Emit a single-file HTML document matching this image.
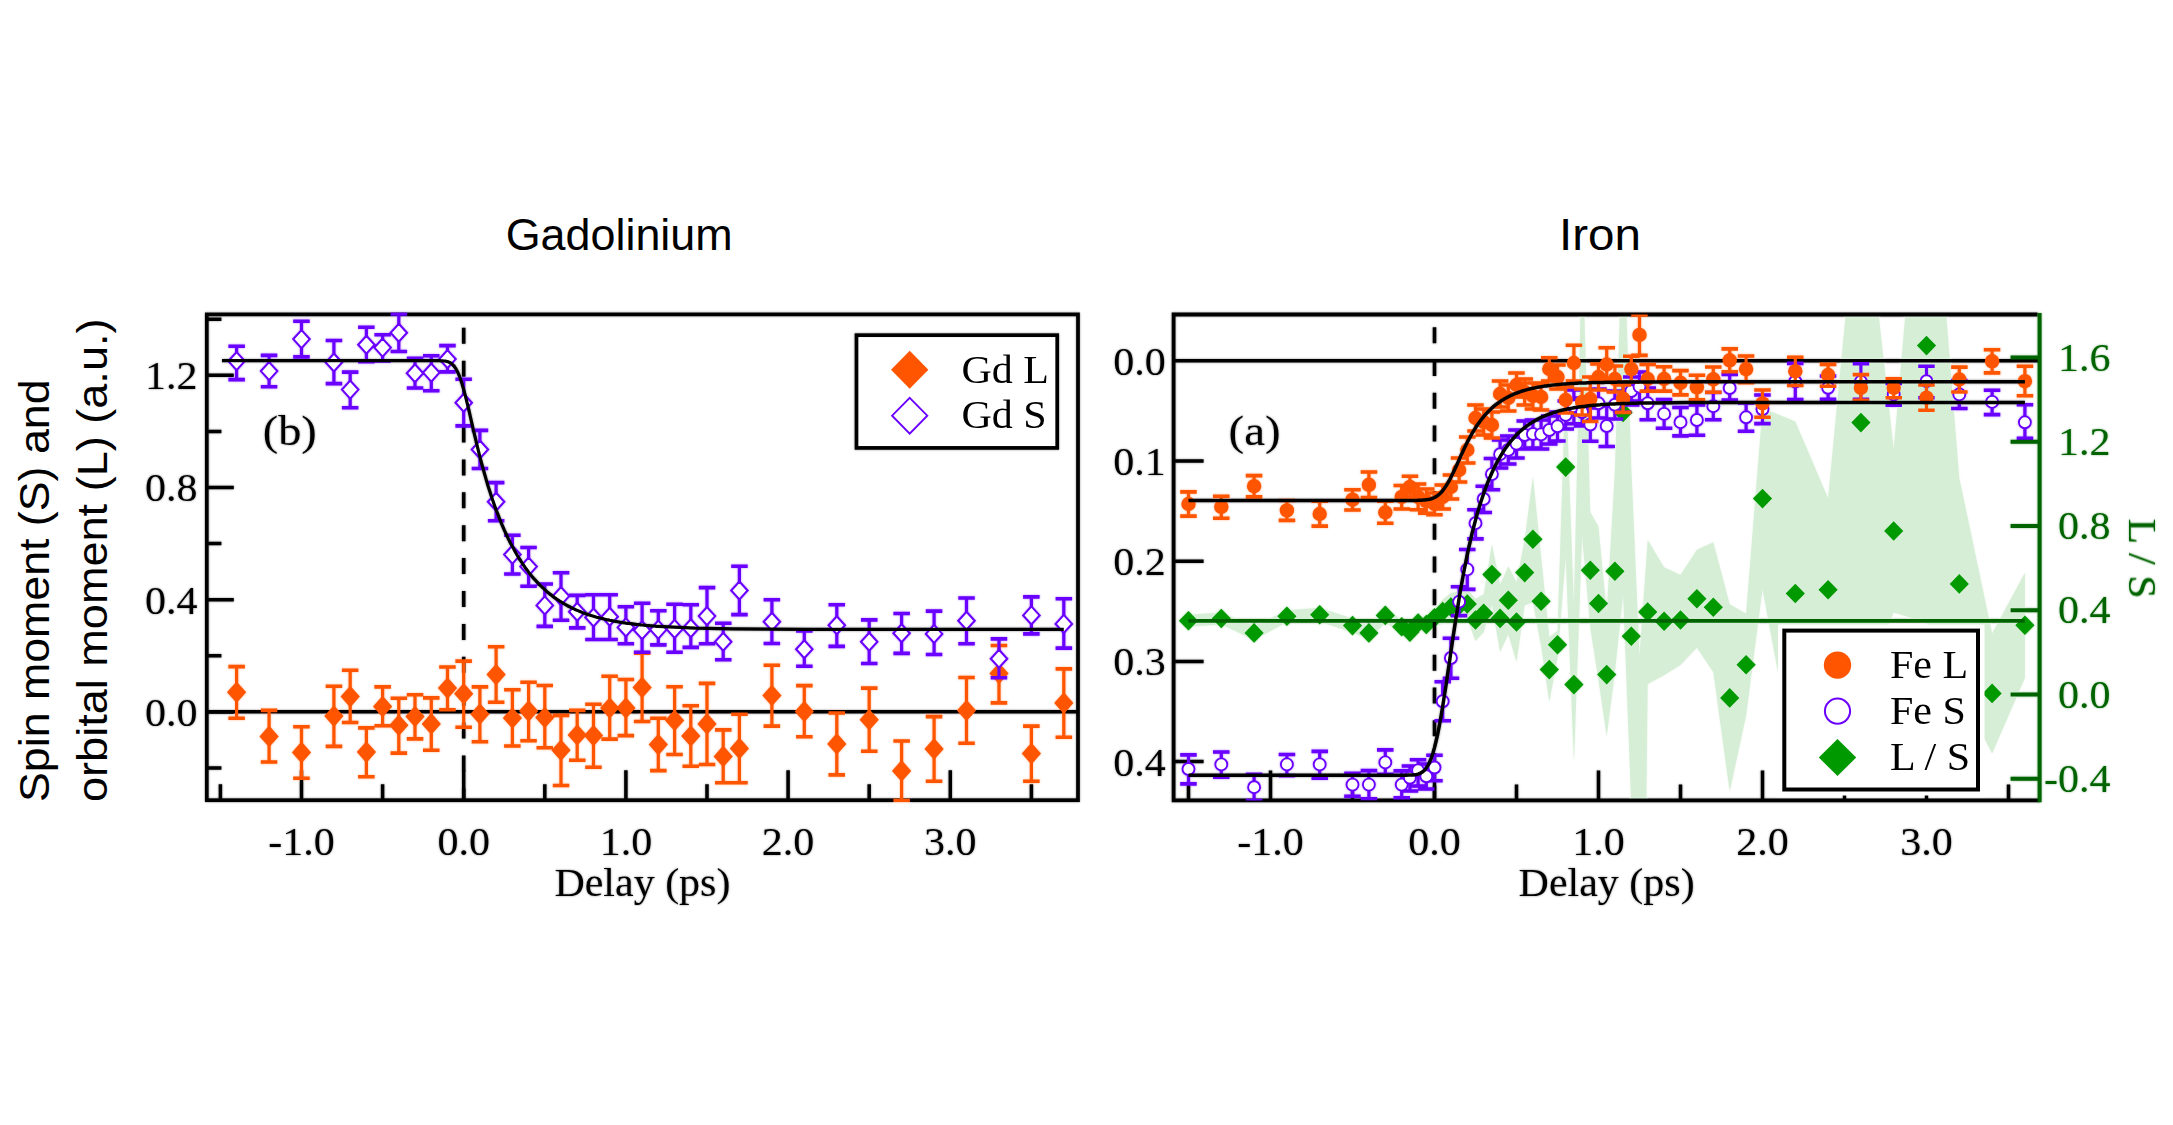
<!DOCTYPE html>
<html lang="en"><head><meta charset="utf-8"><title>Gadolinium and Iron spin and orbital moment dynamics</title>
<style>html,body{margin:0;padding:0;background:#fff}svg{display:block}text{font-family:"Liberation Serif",serif;font-size:40px;fill:#000;stroke:#000;stroke-width:0}.s{font-family:"Liberation Sans",sans-serif;fill:#000;stroke-width:0}.g{fill:#006400;stroke:#006400}</style></head><body>
<svg width="2173" height="1125" viewBox="0 0 2173 1125">
<defs><filter id="b" x="-2%" y="-2%" width="104%" height="104%"><feGaussianBlur stdDeviation="0.85"/><feComponentTransfer result="bl"><feFuncA type="linear" slope="0.45"/></feComponentTransfer><feMerge><feMergeNode in="bl"/><feMergeNode in="SourceGraphic"/></feMerge></filter>
<clipPath id="cr"><rect x="1173.6" y="314.5" width="866" height="486"/></clipPath>
<clipPath id="cl"><rect x="1112.6" y="300" width="80" height="520"/></clipPath>
<clipPath id="clp"><rect x="205" y="312.6" width="875" height="489.4"/></clipPath></defs>
<rect width="2173" height="1125" fill="#fff"/>
<text class="s" x="619.2" y="250.3" style="font-size:44px" text-anchor="middle" textLength="227" lengthAdjust="spacingAndGlyphs">Gadolinium</text>
<text class="s" x="1600" y="250.3" style="font-size:44px" text-anchor="middle" textLength="82" lengthAdjust="spacingAndGlyphs">Iron</text>
<text class="s" transform="translate(48.5 802) rotate(-90)" style="font-size:43px" textLength="422.5" lengthAdjust="spacingAndGlyphs">Spin moment (S) and</text>
<text class="s" transform="translate(106.8 802) rotate(-90)" style="font-size:43px" textLength="483.5" lengthAdjust="spacingAndGlyphs">orbital moment (L) (a.u.)</text>
<g filter="url(#b)">
<path d="M206.8 375.3h27M206.8 487.5h27M206.8 599.7h27M206.8 711.9h27M206.8 319.2h14.6M206.8 431.4h14.6M206.8 543.6h14.6M206.8 655.8h14.6M206.8 768h14.6M301.5 800.2v-30M463.7 800.2v-30M625.9 800.2v-30M788.1 800.2v-30M950.3 800.2v-30M220.4 800.2v-16M382.6 800.2v-16M544.8 800.2v-16M707 800.2v-16M869.2 800.2v-16M1031.4 800.2v-16" stroke="#000" stroke-width="3.5" fill="none"/>
<rect x="206.8" y="314.4" width="871.2" height="485.8" fill="none" stroke="#000" stroke-width="3.7"/>
<path d="M206.8 711.8H1078" stroke="#000" stroke-width="3.5"/>
<path d="M463.7 327.8V800.2" stroke="#000" stroke-width="3.6" stroke-dasharray="16 16.9"/>
<g clip-path="url(#clp)">
<path d="M236.6 666.6V718.2M269.1 710.4V762M301.5 726.8V778.3M333.9 686.2V746.4M350.2 670.3V722.5M366.4 727.9V776.8M382.6 686.9V725.8M398.8 698.3V753.1M415 694.8V738.9M431.3 697.9V750.2M447.5 667V709.7M463.7 661.1V727.2M479.9 686.9V741.7M496.1 646.8V702.2M512.4 689.8V746M528.6 682.2V740.7M544.8 685.5V747.8M561 715.4V785.5M577.2 710.4V760.2M593.5 704.3V767.3M609.7 676.3V739.1M625.9 679.5V735.6M642.1 653.3V721.5M658.3 718.2V770.6M674.6 686.7V754.5M690.8 705.7V766.3M707 683.4V764.5M723.2 729.9V782.7M739.4 714.3V782.7M771.9 665.3V726.1M804.3 685.6V736.8M836.8 713V774.9M869.2 688.1V751.3M901.6 741V800.5M934.1 716.6V781.2M966.5 677.5V743.2M999 645.5V702.9M1031.4 726.1V781.2M1063.8 668.9V737.2" stroke="#ff5500" stroke-width="3.2" fill="none"/>
<path d="M228.4 666.6h16.5M228.4 718.2h16.5M260.8 710.4h16.5M260.8 762h16.5M293.2 726.8h16.5M293.2 778.3h16.5M325.7 686.2h16.5M325.7 746.4h16.5M341.9 670.3h16.5M341.9 722.5h16.5M358.1 727.9h16.5M358.1 776.8h16.5M374.4 686.9h16.5M374.4 725.8h16.5M390.6 698.3h16.5M390.6 753.1h16.5M406.8 694.8h16.5M406.8 738.9h16.5M423 697.9h16.5M423 750.2h16.5M439.2 667h16.5M439.2 709.7h16.5M455.4 661.1h16.5M455.4 727.2h16.5M471.7 686.9h16.5M471.7 741.7h16.5M487.9 646.8h16.5M487.9 702.2h16.5M504.1 689.8h16.5M504.1 746h16.5M520.3 682.2h16.5M520.3 740.7h16.5M536.5 685.5h16.5M536.5 747.8h16.5M552.8 715.4h16.5M552.8 785.5h16.5M569 710.4h16.5M569 760.2h16.5M585.2 704.3h16.5M585.2 767.3h16.5M601.4 676.3h16.5M601.4 739.1h16.5M617.6 679.5h16.5M617.6 735.6h16.5M633.9 653.3h16.5M633.9 721.5h16.5M650.1 718.2h16.5M650.1 770.6h16.5M666.3 686.7h16.5M666.3 754.5h16.5M682.5 705.7h16.5M682.5 766.3h16.5M698.8 683.4h16.5M698.8 764.5h16.5M715 729.9h16.5M715 782.7h16.5M731.2 714.3h16.5M731.2 782.7h16.5M763.6 665.3h16.5M763.6 726.1h16.5M796.1 685.6h16.5M796.1 736.8h16.5M828.5 713h16.5M828.5 774.9h16.5M861 688.1h16.5M861 751.3h16.5M893.4 741h16.5M893.4 800.5h16.5M925.8 716.6h16.5M925.8 781.2h16.5M958.3 677.5h16.5M958.3 743.2h16.5M990.7 645.5h16.5M990.7 702.9h16.5M1023.1 726.1h16.5M1023.1 781.2h16.5M1055.6 668.9h16.5M1055.6 737.2h16.5" stroke="#ff5500" stroke-width="3.6" fill="none"/>
<path d="M236.6 681.5L246.2 692.3L236.6 703.1L227 692.3ZM269.1 725.6L278.7 736.4L269.1 747.2L259.5 736.4ZM301.5 741.6L311.1 752.4L301.5 763.2L291.9 752.4ZM333.9 705.3L343.5 716.1L333.9 726.9L324.3 716.1ZM350.2 685.8L359.8 696.6L350.2 707.4L340.6 696.6ZM366.4 741.3L376 752.1L366.4 762.9L356.8 752.1ZM382.6 695.8L392.2 706.6L382.6 717.4L373 706.6ZM398.8 714.5L408.4 725.3L398.8 736.1L389.2 725.3ZM415 705.7L424.6 716.5L415 727.3L405.4 716.5ZM431.3 713.1L440.9 723.9L431.3 734.7L421.7 723.9ZM447.5 677.3L457.1 688.1L447.5 698.9L437.9 688.1ZM463.7 683L473.3 693.8L463.7 704.6L454.1 693.8ZM479.9 703.2L489.5 714L479.9 724.8L470.3 714ZM496.1 663.8L505.7 674.6L496.1 685.4L486.5 674.6ZM512.4 707.2L522 718L512.4 728.8L502.8 718ZM528.6 700.3L538.2 711.1L528.6 721.9L519 711.1ZM544.8 706.7L554.4 717.5L544.8 728.3L535.2 717.5ZM561 739.4L570.6 750.2L561 761L551.4 750.2ZM577.2 724.2L586.8 735L577.2 745.8L567.6 735ZM593.5 724.8L603.1 735.6L593.5 746.4L583.9 735.6ZM609.7 697.2L619.3 708L609.7 718.8L600.1 708ZM625.9 697.2L635.5 708L625.9 718.8L616.3 708ZM642.1 676.6L651.7 687.4L642.1 698.2L632.5 687.4ZM658.3 733.8L667.9 744.6L658.3 755.4L648.7 744.6ZM674.6 709.6L684.2 720.4L674.6 731.2L665 720.4ZM690.8 725.2L700.4 736L690.8 746.8L681.2 736ZM707 713.1L716.6 723.9L707 734.7L697.4 723.9ZM723.2 745.6L732.8 756.4L723.2 767.2L713.6 756.4ZM739.4 737.6L749 748.4L739.4 759.2L729.8 748.4ZM771.9 684.7L781.5 695.5L771.9 706.3L762.3 695.5ZM804.3 700.7L813.9 711.5L804.3 722.3L794.7 711.5ZM836.8 733.1L846.4 743.9L836.8 754.7L827.2 743.9ZM869.2 708.9L878.8 719.7L869.2 730.5L859.6 719.7ZM901.6 760.1L911.2 770.9L901.6 781.7L892 770.9ZM934.1 738.1L943.7 748.9L934.1 759.7L924.5 748.9ZM966.5 699.7L976.1 710.5L966.5 721.3L956.9 710.5ZM999 662.7L1008.6 673.5L999 684.3L989.4 673.5ZM1031.4 742.8L1041 753.6L1031.4 764.4L1021.8 753.6ZM1063.8 692.3L1073.4 703.1L1063.8 713.9L1054.2 703.1Z" fill="#ff5500"/>
<path d="M236.6 346.2V379.6M269.1 355.4V386.7M301.5 321.3V356.9M333.9 340.5V383.6M350.2 372.1V407.8M366.4 327.3V361.8M382.6 334.8V361M398.8 314V351.5M415 358.4V388M431.3 355.8V390.8M447.5 345.6V371.9M463.7 379.3V425.9M479.9 430.4V468.5M496.1 482.6V520.7M512.4 535.3V574M528.6 547.5V586.2M544.8 584V626.4M561 572.7V620.3M577.2 595.4V627.9M593.5 594.7V639.5M609.7 594.7V639.5M625.9 606.8V643.8M642.1 603.3V652.3M658.3 610.8V644.9M674.6 604.3V652.3M690.8 604.7V647.4M707 587.6V643.8M723.2 623.2V659.7M739.4 566.3V614.6M771.9 599.7V643.5M804.3 631V666.3M836.8 604.7V646.4M869.2 619.9V663.5M901.6 613.5V653.4M934.1 611.1V654.5M966.5 598V643.8M999 638.9V677.7M1031.4 596.9V633.9M1063.8 598.7V648.1" stroke="#6a00ff" stroke-width="3.2" fill="none"/>
<path d="M228.4 346.2h16.5M228.4 379.6h16.5M260.8 355.4h16.5M260.8 386.7h16.5M293.2 321.3h16.5M293.2 356.9h16.5M325.7 340.5h16.5M325.7 383.6h16.5M341.9 372.1h16.5M341.9 407.8h16.5M358.1 327.3h16.5M358.1 361.8h16.5M374.4 334.8h16.5M374.4 361h16.5M390.6 314h16.5M390.6 351.5h16.5M406.8 358.4h16.5M406.8 388h16.5M423 355.8h16.5M423 390.8h16.5M439.2 345.6h16.5M439.2 371.9h16.5M455.4 379.3h16.5M455.4 425.9h16.5M471.7 430.4h16.5M471.7 468.5h16.5M487.9 482.6h16.5M487.9 520.7h16.5M504.1 535.3h16.5M504.1 574h16.5M520.3 547.5h16.5M520.3 586.2h16.5M536.5 584h16.5M536.5 626.4h16.5M552.8 572.7h16.5M552.8 620.3h16.5M569 595.4h16.5M569 627.9h16.5M585.2 594.7h16.5M585.2 639.5h16.5M601.4 594.7h16.5M601.4 639.5h16.5M617.6 606.8h16.5M617.6 643.8h16.5M633.9 603.3h16.5M633.9 652.3h16.5M650.1 610.8h16.5M650.1 644.9h16.5M666.3 604.3h16.5M666.3 652.3h16.5M682.5 604.7h16.5M682.5 647.4h16.5M698.8 587.6h16.5M698.8 643.8h16.5M715 623.2h16.5M715 659.7h16.5M731.2 566.3h16.5M731.2 614.6h16.5M763.6 599.7h16.5M763.6 643.5h16.5M796.1 631h16.5M796.1 666.3h16.5M828.5 604.7h16.5M828.5 646.4h16.5M861 619.9h16.5M861 663.5h16.5M893.4 613.5h16.5M893.4 653.4h16.5M925.8 611.1h16.5M925.8 654.5h16.5M958.3 598h16.5M958.3 643.8h16.5M990.7 638.9h16.5M990.7 677.7h16.5M1023.1 596.9h16.5M1023.1 633.9h16.5M1055.6 598.7h16.5M1055.6 648.1h16.5" stroke="#6a00ff" stroke-width="3.6" fill="none"/>
<path d="M236.6 352.1L244.8 361.1L236.6 370.1L228.4 361.1ZM269.1 362.1L277.3 371.1L269.1 380.1L260.9 371.1ZM301.5 330.1L309.7 339.1L301.5 348.1L293.3 339.1ZM333.9 353.5L342.1 362.5L333.9 371.5L325.7 362.5ZM350.2 380.6L358.4 389.6L350.2 398.6L342 389.6ZM366.4 335.8L374.6 344.8L366.4 353.8L358.2 344.8ZM382.6 338.6L390.8 347.6L382.6 356.6L374.4 347.6ZM398.8 323.7L407 332.7L398.8 341.7L390.6 332.7ZM415 364.3L423.2 373.3L415 382.3L406.8 373.3ZM431.3 363.6L439.5 372.6L431.3 381.6L423.1 372.6ZM447.5 350.1L455.7 359.1L447.5 368.1L439.3 359.1ZM463.7 393.7L471.9 402.7L463.7 411.7L455.5 402.7ZM479.9 440.5L488.1 449.5L479.9 458.5L471.7 449.5ZM496.1 492.8L504.3 501.8L496.1 510.8L487.9 501.8ZM512.4 545.6L520.6 554.6L512.4 563.6L504.2 554.6ZM528.6 557.6L536.8 566.6L528.6 575.6L520.4 566.6ZM544.8 596.4L553 605.4L544.8 614.4L536.6 605.4ZM561 587.1L569.2 596.1L561 605.1L552.8 596.1ZM577.2 602.8L585.4 611.8L577.2 620.8L569 611.8ZM593.5 608.5L601.7 617.5L593.5 626.5L585.3 617.5ZM609.7 607.8L617.9 616.8L609.7 625.8L601.5 616.8ZM625.9 618.4L634.1 627.4L625.9 636.4L617.7 627.4ZM642.1 621.3L650.3 630.3L642.1 639.3L633.9 630.3ZM658.3 620.6L666.5 629.6L658.3 638.6L650.1 629.6ZM674.6 619.9L682.8 628.9L674.6 637.9L666.4 628.9ZM690.8 619.2L699 628.2L690.8 637.2L682.6 628.2ZM707 607.1L715.2 616.1L707 625.1L698.8 616.1ZM723.2 632.7L731.4 641.7L723.2 650.7L715 641.7ZM739.4 581.5L747.6 590.5L739.4 599.5L731.2 590.5ZM771.9 612.7L780.1 621.7L771.9 630.7L763.7 621.7ZM804.3 640.2L812.5 649.2L804.3 658.2L796.1 649.2ZM836.8 616.3L845 625.3L836.8 634.3L828.6 625.3ZM869.2 632.7L877.4 641.7L869.2 650.7L861 641.7ZM901.6 624.2L909.8 633.2L901.6 642.2L893.4 633.2ZM934.1 624.9L942.3 633.9L934.1 642.9L925.9 633.9ZM966.5 611.8L974.7 620.8L966.5 629.8L958.3 620.8ZM999 649.8L1007.2 658.8L999 667.8L990.8 658.8ZM1031.4 606.4L1039.6 615.4L1031.4 624.4L1023.2 615.4ZM1063.8 614.9L1072 623.9L1063.8 632.9L1055.6 623.9Z" fill="#fff" stroke="#6a00ff" stroke-width="2.1" stroke-linejoin="miter"/>
</g>
<path d="M222 360.7 L326.6 360.7 L431.3 360.7 L431.3 360.7 L432.9 360.7 L434.5 360.7 L436.1 360.7 L437.7 360.7 L439.4 360.7 L441 360.8 L442.6 360.9 L444.2 361 L445.9 361.2 L447.5 361.6 L449.1 362.2 L450.7 363 L452.3 364.3 L454 366 L455.6 368.3 L457.2 371.2 L458.8 374.7 L460.5 379 L462.1 384 L463.7 389.6 L465.3 395.7 L466.9 402.2 L468.6 409 L470.2 416 L471.8 423.1 L473.4 430.1 L475.1 437 L476.7 443.8 L478.3 450.4 L479.9 456.8 L481.5 463 L483.2 469 L484.8 474.8 L486.4 480.4 L488 485.8 L489.7 491 L491.3 495.9 L492.9 500.8 L494.5 505.4 L496.1 509.9 L497.8 514.2 L499.4 518.4 L501 522.4 L502.6 526.2 L504.2 529.9 L505.9 533.5 L507.5 537 L509.1 540.3 L510.7 543.5 L512.4 546.6 L514 549.6 L515.6 552.5 L517.2 555.3 L518.8 558 L520.5 560.5 L522.1 563 L523.7 565.4 L525.3 567.7 L527 569.9 L528.6 572.1 L530.2 574.2 L531.8 576.2 L533.4 578.1 L535.1 579.9 L536.7 581.7 L538.3 583.4 L539.9 585.1 L541.6 586.7 L543.2 588.2 L544.8 589.7 L546.4 591.2 L548 592.5 L549.7 593.9 L551.3 595.1 L552.9 596.4 L554.5 597.6 L556.2 598.7 L557.8 599.8 L559.4 600.9 L561 601.9 L562.6 602.9 L564.3 603.9 L565.9 604.8 L567.5 605.7 L569.1 606.5 L570.8 607.4 L572.4 608.2 L574 608.9 L575.6 609.7 L577.2 610.4 L578.9 611.1 L580.5 611.7 L582.1 612.4 L583.7 613 L585.4 613.6 L587 614.1 L588.6 614.7 L590.2 615.2 L591.8 615.7 L593.5 616.2 L595.1 616.7 L596.7 617.2 L598.3 617.6 L599.9 618 L601.6 618.4 L603.2 618.8 L604.8 619.2 L606.4 619.6 L608.1 619.9 L609.7 620.3 L611.3 620.6 L612.9 620.9 L614.5 621.2 L616.2 621.5 L617.8 621.8 L619.4 622.1 L621 622.3 L622.7 622.6 L624.3 622.8 L625.9 623.1 L627.5 623.3 L629.1 623.5 L630.8 623.7 L632.4 623.9 L634 624.1 L635.6 624.3 L637.3 624.5 L638.9 624.7 L640.5 624.9 L642.1 625 L643.7 625.2 L645.4 625.3 L647 625.5 L648.6 625.6 L650.2 625.8 L651.9 625.9 L653.5 626 L655.1 626.1 L656.7 626.3 L658.3 626.4 L658.3 626.4 L695.2 628.1 L732.1 628.8 L768.9 629.2 L805.8 629.3 L842.7 629.4 L879.5 629.4 L916.4 629.4 L953.2 629.4 L990.1 629.4 L1027 629.4 L1063.8 629.4" stroke="#000" stroke-width="3.2" fill="none" stroke-linejoin="round"/>
<rect x="856.5" y="335.2" width="200.7" height="112.7" fill="#fff" stroke="#000" stroke-width="3.7"/>
<path d="M909.7 350.7L928.4 369.7L909.7 388.7L891 369.7Z" fill="#ff5500"/>
<path d="M909.7 397.8L927.3 415.7L909.7 433.6L892.1 415.7Z" fill="#fff" stroke="#6a00ff" stroke-width="1.9" stroke-linejoin="miter"/>
<text transform="translate(961.4 382.7) scale(1.05 1)">Gd L</text><text transform="translate(961.4 428.2) scale(1.05 1)">Gd S</text>
<text transform="translate(197.6 389.1) scale(1.05 1)" text-anchor="end">1.2</text>
<text transform="translate(197.6 501.3) scale(1.05 1)" text-anchor="end">0.8</text>
<text transform="translate(197.6 613.5) scale(1.05 1)" text-anchor="end">0.4</text>
<text transform="translate(197.6 725.7) scale(1.05 1)" text-anchor="end">0.0</text>
<text transform="translate(301.5 855.2) scale(1.05 1)" text-anchor="middle">-1.0</text>
<text transform="translate(463.7 855.2) scale(1.05 1)" text-anchor="middle">0.0</text>
<text transform="translate(625.9 855.2) scale(1.05 1)" text-anchor="middle">1.0</text>
<text transform="translate(788.1 855.2) scale(1.05 1)" text-anchor="middle">2.0</text>
<text transform="translate(950.3 855.2) scale(1.05 1)" text-anchor="middle">3.0</text>
<text transform="translate(642.4 896.4) scale(1.05 1)" text-anchor="middle">Delay (ps)</text>
<text x="262.8" y="444.5" style="font-size:43px" textLength="54" lengthAdjust="spacingAndGlyphs">(b)</text>
</g>
<g filter="url(#b)">
<g clip-path="url(#cr)">
<path d="M1188.5 614.7 L1221.3 612.5 L1254.1 625.9 L1286.9 610.2 L1319.7 607.7 L1352.5 618.6 L1368.9 625.9 L1385.3 608.4 L1401.7 619.8 L1409.9 625.1 L1418.1 616 L1426.3 616.5 L1434.5 608.7 L1442.7 599.6 L1450.9 593.1 L1459.1 591.6 L1467.3 589 L1475.5 599 L1483.7 594.3 L1491.9 544.1 L1500.1 584.8 L1508.3 566.2 L1516.5 582 L1524.7 539.6 L1532.9 476.3 L1541.1 556.3 L1549.3 637.1 L1557.5 630.7 L1565.7 377.1 L1573.9 605.6 L1582.1 240 L1590.3 512.3 L1598.5 526.5 L1606.7 612.6 L1614.9 470.2 L1623.1 205 L1631.3 466.2 L1639.5 656 L1647.7 540 L1664.1 567.3 L1680.5 575 L1696.9 549.8 L1713.3 542.2 L1729.7 604.3 L1746.1 613.7 L1762.5 408 L1795.3 421.5 L1828.1 498.2 L1860.9 155.6 L1893.7 449.5 L1926.5 68.6 L1959.3 477.9 L1992.1 633.4 L2024.9 572.7 L2024.9 677.9 L1992.1 753.4 L1959.3 689.9 L1926.5 622.6 L1893.7 612.5 L1860.9 689.6 L1828.1 681.2 L1795.3 765.5 L1762.5 589.2 L1746.1 715.7 L1729.7 791.5 L1713.3 672.2 L1696.9 647.8 L1680.5 665 L1664.1 675.3 L1647.7 684 L1639.5 1404 L1631.3 806.2 L1623.1 595 L1614.9 672.2 L1606.7 736.6 L1598.5 680.5 L1590.3 628.3 L1582.1 536 L1573.9 763.6 L1565.7 557.1 L1557.5 658.7 L1549.3 702.1 L1541.1 646.3 L1532.9 602.3 L1524.7 605.6 L1516.5 662 L1508.3 634.2 L1500.1 652 L1491.9 605.1 L1483.7 632.3 L1475.5 641 L1467.3 619 L1459.1 619.6 L1450.9 621.1 L1442.7 623.6 L1434.5 626.7 L1426.3 632.5 L1418.1 630 L1409.9 639.1 L1401.7 633.8 L1385.3 622.4 L1368.9 639.9 L1352.5 632.6 L1319.7 621.7 L1286.9 622.2 L1254.1 639.9 L1221.3 624.5 L1188.5 626.7Z" fill="#d6eed6"/>
<path d="M1188.5 610.9L1198.1 620.7L1188.5 630.5L1178.9 620.7ZM1221.3 608.7L1230.9 618.5L1221.3 628.3L1211.7 618.5ZM1254.1 623.1L1263.7 632.9L1254.1 642.7L1244.5 632.9ZM1286.9 606.4L1296.5 616.2L1286.9 626L1277.3 616.2ZM1319.7 604.9L1329.3 614.7L1319.7 624.5L1310.1 614.7ZM1352.5 615.8L1362.1 625.6L1352.5 635.4L1342.9 625.6ZM1368.9 623.1L1378.5 632.9L1368.9 642.7L1359.3 632.9ZM1385.3 605.6L1394.9 615.4L1385.3 625.2L1375.7 615.4ZM1401.7 617L1411.3 626.8L1401.7 636.6L1392.1 626.8ZM1409.9 622.3L1419.5 632.1L1409.9 641.9L1400.3 632.1ZM1418.1 613.2L1427.7 623L1418.1 632.8L1408.5 623ZM1426.3 614.7L1435.9 624.5L1426.3 634.3L1416.7 624.5ZM1434.5 607.9L1444.1 617.7L1434.5 627.5L1424.9 617.7ZM1442.7 601.8L1452.3 611.6L1442.7 621.4L1433.1 611.6ZM1450.9 597.3L1460.5 607.1L1450.9 616.9L1441.3 607.1ZM1459.1 595.8L1468.7 605.6L1459.1 615.4L1449.5 605.6ZM1467.3 594.2L1476.9 604L1467.3 613.8L1457.7 604ZM1475.5 610.2L1485.1 620L1475.5 629.8L1465.9 620ZM1483.7 603.5L1493.3 613.3L1483.7 623.1L1474.1 613.3ZM1491.9 564.8L1501.5 574.6L1491.9 584.4L1482.3 574.6ZM1500.1 608.6L1509.7 618.4L1500.1 628.2L1490.5 618.4ZM1508.3 590.4L1517.9 600.2L1508.3 610L1498.7 600.2ZM1516.5 612.2L1526.1 622L1516.5 631.8L1506.9 622ZM1524.7 562.8L1534.3 572.6L1524.7 582.4L1515.1 572.6ZM1532.9 529.5L1542.5 539.3L1532.9 549.1L1523.3 539.3ZM1541.1 591.5L1550.7 601.3L1541.1 611.1L1531.5 601.3ZM1549.3 659.8L1558.9 669.6L1549.3 679.4L1539.7 669.6ZM1557.5 634.9L1567.1 644.7L1557.5 654.5L1547.9 644.7ZM1565.7 457.3L1575.3 467.1L1565.7 476.9L1556.1 467.1ZM1573.9 674.8L1583.5 684.6L1573.9 694.4L1564.3 684.6ZM1582.1 400.2L1591.7 410L1582.1 419.8L1572.5 410ZM1590.3 560.5L1599.9 570.3L1590.3 580.1L1580.7 570.3ZM1598.5 593.7L1608.1 603.5L1598.5 613.3L1588.9 603.5ZM1606.7 664.8L1616.3 674.6L1606.7 684.4L1597.1 674.6ZM1614.9 561.4L1624.5 571.2L1614.9 581L1605.3 571.2ZM1623.1 402.7L1632.7 412.5L1623.1 422.3L1613.5 412.5ZM1631.3 626.4L1640.9 636.2L1631.3 646L1621.7 636.2ZM1647.7 602.2L1657.3 612L1647.7 621.8L1638.1 612ZM1664.1 611.5L1673.7 621.3L1664.1 631.1L1654.5 621.3ZM1680.5 610.2L1690.1 620L1680.5 629.8L1670.9 620ZM1696.9 589L1706.5 598.8L1696.9 608.6L1687.3 598.8ZM1713.3 597.4L1722.9 607.2L1713.3 617L1703.7 607.2ZM1729.7 688.1L1739.3 697.9L1729.7 707.7L1720.1 697.9ZM1746.1 654.9L1755.7 664.7L1746.1 674.5L1736.5 664.7ZM1762.5 488.8L1772.1 498.6L1762.5 508.4L1752.9 498.6ZM1795.3 583.7L1804.9 593.5L1795.3 603.3L1785.7 593.5ZM1828.1 579.9L1837.7 589.7L1828.1 599.5L1818.5 589.7ZM1860.9 412.8L1870.5 422.6L1860.9 432.4L1851.3 422.6ZM1893.7 521.2L1903.3 531L1893.7 540.8L1884.1 531ZM1926.5 335.8L1936.1 345.6L1926.5 355.4L1916.9 345.6ZM1959.3 574.1L1968.9 583.9L1959.3 593.7L1949.7 583.9ZM1992.1 683.6L2001.7 693.4L1992.1 703.2L1982.5 693.4ZM2024.9 615.5L2034.5 625.3L2024.9 635.1L2015.3 625.3Z" fill="#009900"/>
</g>
<path d="M1188.3 620.8H2024.8" stroke="#006400" stroke-width="3.7"/>
<path d="M1173.6 461h30M1173.6 561.2h30M1173.6 661.4h30M1173.6 761.6h30M1270.5 800.4v-30M1434.5 800.4v-30M1598.5 800.4v-30M1762.5 800.4v-30M1926.5 800.4v-30M1188.5 800.4v-16M1352.5 800.4v-16M1516.5 800.4v-16M1680.5 800.4v-16M1844.5 800.4v-16M2008.5 800.4v-16" stroke="#000" stroke-width="3.5" fill="none"/>
<path d="M1171.7 314.5H2037.6M1173.6 314.5V800.4H2039.6" fill="none" stroke="#000" stroke-width="3.8"/>
<path d="M1173.6 360.7H2039.6" stroke="#000" stroke-width="3.5"/>
<path d="M1434.5 327.2V800.4" stroke="#000" stroke-width="3.6" stroke-dasharray="16 16.75"/>
<g clip-path="url(#cr)">
<path d="M1188.5 754.9V783.9M1221.3 752V777.3M1254.1 774.2V800.5M1286.9 754.5V775.6M1319.7 751.4V778.3M1352.5 773.3V796.3M1368.9 770.6V798.8M1385.3 749.9V774.3M1401.7 770.9V797.8M1409.9 766V791M1418.1 759.7V786M1426.3 764V789M1434.5 755.3V780.7M1442.7 681.7V720.8M1450.9 638.3V678.2M1459.1 586.8V615.6M1467.3 549.5V589.4M1475.5 509.7V538.9M1483.7 486.2V512.5M1491.9 458.5V489.8M1500.1 440V468M1508.3 436V464M1516.5 430V458M1524.7 421V449M1532.9 420V448M1541.1 420V449M1549.3 416V444M1557.5 412V441M1565.7 401V429M1573.9 390V423.8M1582.1 398V426M1590.3 408V441.2M1598.5 389V418M1606.7 406V446.5M1614.9 391V419M1623.1 384V412M1631.3 377V405M1639.5 372V401M1647.7 388V419.7M1664.1 399.5V428.3M1680.5 407.5V435.9M1696.9 405V435.2M1713.3 392.5V419.8M1729.7 374.4V400M1746.1 403V431.2M1762.5 395V423.6M1795.3 363.4V399.6M1828.1 376V399.4M1860.9 363.8V399.4M1893.7 383.5V405.2M1926.5 366.3V397.7M1959.3 380.5V408.5M1992.1 390.3V414.6M2024.9 404.7V438.3" stroke="#6a00ff" stroke-width="3.2" fill="none"/>
<path d="M1180.2 754.9h16.5M1180.2 783.9h16.5M1213 752h16.5M1213 777.3h16.5M1245.8 774.2h16.5M1245.8 800.5h16.5M1278.7 754.5h16.5M1278.7 775.6h16.5M1311.5 751.4h16.5M1311.5 778.3h16.5M1344.2 773.3h16.5M1344.2 796.3h16.5M1360.7 770.6h16.5M1360.7 798.8h16.5M1377 749.9h16.5M1377 774.3h16.5M1393.5 770.9h16.5M1393.5 797.8h16.5M1401.7 766h16.5M1401.7 791h16.5M1409.8 759.7h16.5M1409.8 786h16.5M1418 764h16.5M1418 789h16.5M1426.2 755.3h16.5M1426.2 780.7h16.5M1434.5 681.7h16.5M1434.5 720.8h16.5M1442.7 638.3h16.5M1442.7 678.2h16.5M1450.8 586.8h16.5M1450.8 615.6h16.5M1459 549.5h16.5M1459 589.4h16.5M1467.2 509.7h16.5M1467.2 538.9h16.5M1475.5 486.2h16.5M1475.5 512.5h16.5M1483.7 458.5h16.5M1483.7 489.8h16.5M1491.8 440h16.5M1491.8 468h16.5M1500 436h16.5M1500 464h16.5M1508.2 430h16.5M1508.2 458h16.5M1516.5 421h16.5M1516.5 449h16.5M1524.7 420h16.5M1524.7 448h16.5M1532.8 420h16.5M1532.8 449h16.5M1541 416h16.5M1541 444h16.5M1549.2 412h16.5M1549.2 441h16.5M1557.5 401h16.5M1557.5 429h16.5M1565.7 390h16.5M1565.7 423.8h16.5M1573.8 398h16.5M1573.8 426h16.5M1582 408h16.5M1582 441.2h16.5M1590.2 389h16.5M1590.2 418h16.5M1598.5 406h16.5M1598.5 446.5h16.5M1606.7 391h16.5M1606.7 419h16.5M1614.8 384h16.5M1614.8 412h16.5M1623 377h16.5M1623 405h16.5M1631.2 372h16.5M1631.2 401h16.5M1639.5 388h16.5M1639.5 419.7h16.5M1655.8 399.5h16.5M1655.8 428.3h16.5M1672.2 407.5h16.5M1672.2 435.9h16.5M1688.7 405h16.5M1688.7 435.2h16.5M1705 392.5h16.5M1705 419.8h16.5M1721.5 374.4h16.5M1721.5 400h16.5M1737.8 403h16.5M1737.8 431.2h16.5M1754.2 395h16.5M1754.2 423.6h16.5M1787 363.4h16.5M1787 399.6h16.5M1819.8 376h16.5M1819.8 399.4h16.5M1852.7 363.8h16.5M1852.7 399.4h16.5M1885.5 383.5h16.5M1885.5 405.2h16.5M1918.2 366.3h16.5M1918.2 397.7h16.5M1951.1 380.5h16.5M1951.1 408.5h16.5M1983.8 390.3h16.5M1983.8 414.6h16.5M2016.7 404.7h16.5M2016.7 438.3h16.5" stroke="#6a00ff" stroke-width="3.6" fill="none"/>
<circle cx="1188.5" cy="769" r="6.0" fill="#fff" stroke="#6a00ff" stroke-width="1.9"/>
<circle cx="1221.3" cy="764.4" r="6.0" fill="#fff" stroke="#6a00ff" stroke-width="1.9"/>
<circle cx="1254.1" cy="787.2" r="6.0" fill="#fff" stroke="#6a00ff" stroke-width="1.9"/>
<circle cx="1286.9" cy="764.4" r="6.0" fill="#fff" stroke="#6a00ff" stroke-width="1.9"/>
<circle cx="1319.7" cy="764.4" r="6.0" fill="#fff" stroke="#6a00ff" stroke-width="1.9"/>
<circle cx="1352.5" cy="784.6" r="6.0" fill="#fff" stroke="#6a00ff" stroke-width="1.9"/>
<circle cx="1368.9" cy="784.6" r="6.0" fill="#fff" stroke="#6a00ff" stroke-width="1.9"/>
<circle cx="1385.3" cy="762.4" r="6.0" fill="#fff" stroke="#6a00ff" stroke-width="1.9"/>
<circle cx="1401.7" cy="784.6" r="6.0" fill="#fff" stroke="#6a00ff" stroke-width="1.9"/>
<circle cx="1409.9" cy="777.8" r="6.0" fill="#fff" stroke="#6a00ff" stroke-width="1.9"/>
<circle cx="1418.1" cy="770.4" r="6.0" fill="#fff" stroke="#6a00ff" stroke-width="1.9"/>
<circle cx="1426.3" cy="776.3" r="6.0" fill="#fff" stroke="#6a00ff" stroke-width="1.9"/>
<circle cx="1434.5" cy="767.5" r="6.0" fill="#fff" stroke="#6a00ff" stroke-width="1.9"/>
<circle cx="1442.7" cy="701.3" r="6.0" fill="#fff" stroke="#6a00ff" stroke-width="1.9"/>
<circle cx="1450.9" cy="658" r="6.0" fill="#fff" stroke="#6a00ff" stroke-width="1.9"/>
<circle cx="1459.1" cy="601.8" r="6.0" fill="#fff" stroke="#6a00ff" stroke-width="1.9"/>
<circle cx="1467.3" cy="569.4" r="6.0" fill="#fff" stroke="#6a00ff" stroke-width="1.9"/>
<circle cx="1475.5" cy="523.2" r="6.0" fill="#fff" stroke="#6a00ff" stroke-width="1.9"/>
<circle cx="1483.7" cy="499" r="6.0" fill="#fff" stroke="#6a00ff" stroke-width="1.9"/>
<circle cx="1491.9" cy="474.1" r="6.0" fill="#fff" stroke="#6a00ff" stroke-width="1.9"/>
<circle cx="1500.1" cy="454.2" r="6.0" fill="#fff" stroke="#6a00ff" stroke-width="1.9"/>
<circle cx="1508.3" cy="450" r="6.0" fill="#fff" stroke="#6a00ff" stroke-width="1.9"/>
<circle cx="1516.5" cy="443.7" r="6.0" fill="#fff" stroke="#6a00ff" stroke-width="1.9"/>
<circle cx="1524.7" cy="435" r="6.0" fill="#fff" stroke="#6a00ff" stroke-width="1.9"/>
<circle cx="1532.9" cy="434" r="6.0" fill="#fff" stroke="#6a00ff" stroke-width="1.9"/>
<circle cx="1541.1" cy="434.4" r="6.0" fill="#fff" stroke="#6a00ff" stroke-width="1.9"/>
<circle cx="1549.3" cy="430" r="6.0" fill="#fff" stroke="#6a00ff" stroke-width="1.9"/>
<circle cx="1557.5" cy="426.3" r="6.0" fill="#fff" stroke="#6a00ff" stroke-width="1.9"/>
<circle cx="1565.7" cy="415" r="6.0" fill="#fff" stroke="#6a00ff" stroke-width="1.9"/>
<circle cx="1573.9" cy="406.3" r="6.0" fill="#fff" stroke="#6a00ff" stroke-width="1.9"/>
<circle cx="1582.1" cy="412" r="6.0" fill="#fff" stroke="#6a00ff" stroke-width="1.9"/>
<circle cx="1590.3" cy="424.5" r="6.0" fill="#fff" stroke="#6a00ff" stroke-width="1.9"/>
<circle cx="1598.5" cy="403.3" r="6.0" fill="#fff" stroke="#6a00ff" stroke-width="1.9"/>
<circle cx="1606.7" cy="426" r="6.0" fill="#fff" stroke="#6a00ff" stroke-width="1.9"/>
<circle cx="1614.9" cy="404.8" r="6.0" fill="#fff" stroke="#6a00ff" stroke-width="1.9"/>
<circle cx="1623.1" cy="398" r="6.0" fill="#fff" stroke="#6a00ff" stroke-width="1.9"/>
<circle cx="1631.3" cy="391" r="6.0" fill="#fff" stroke="#6a00ff" stroke-width="1.9"/>
<circle cx="1639.5" cy="386.6" r="6.0" fill="#fff" stroke="#6a00ff" stroke-width="1.9"/>
<circle cx="1647.7" cy="403.3" r="6.0" fill="#fff" stroke="#6a00ff" stroke-width="1.9"/>
<circle cx="1664.1" cy="413.9" r="6.0" fill="#fff" stroke="#6a00ff" stroke-width="1.9"/>
<circle cx="1680.5" cy="422.2" r="6.0" fill="#fff" stroke="#6a00ff" stroke-width="1.9"/>
<circle cx="1696.9" cy="420" r="6.0" fill="#fff" stroke="#6a00ff" stroke-width="1.9"/>
<circle cx="1713.3" cy="406.2" r="6.0" fill="#fff" stroke="#6a00ff" stroke-width="1.9"/>
<circle cx="1729.7" cy="388" r="6.0" fill="#fff" stroke="#6a00ff" stroke-width="1.9"/>
<circle cx="1746.1" cy="417.3" r="6.0" fill="#fff" stroke="#6a00ff" stroke-width="1.9"/>
<circle cx="1762.5" cy="409.3" r="6.0" fill="#fff" stroke="#6a00ff" stroke-width="1.9"/>
<circle cx="1795.3" cy="381.5" r="6.0" fill="#fff" stroke="#6a00ff" stroke-width="1.9"/>
<circle cx="1828.1" cy="387.8" r="6.0" fill="#fff" stroke="#6a00ff" stroke-width="1.9"/>
<circle cx="1860.9" cy="381.6" r="6.0" fill="#fff" stroke="#6a00ff" stroke-width="1.9"/>
<circle cx="1893.7" cy="394.4" r="6.0" fill="#fff" stroke="#6a00ff" stroke-width="1.9"/>
<circle cx="1926.5" cy="381.2" r="6.0" fill="#fff" stroke="#6a00ff" stroke-width="1.9"/>
<circle cx="1959.3" cy="394.4" r="6.0" fill="#fff" stroke="#6a00ff" stroke-width="1.9"/>
<circle cx="1992.1" cy="401.9" r="6.0" fill="#fff" stroke="#6a00ff" stroke-width="1.9"/>
<circle cx="2024.9" cy="422.3" r="6.0" fill="#fff" stroke="#6a00ff" stroke-width="1.9"/>
<path d="M1188.5 491.9V516.1M1221.3 496.2V518.2M1254.1 475.6V496.9M1286.9 500.5V520.4M1319.7 501.2V526.1M1352.5 489.8V510M1368.9 472V497.6M1385.3 501.2V523.2M1401.7 485.5V509M1409.9 476.3V498.3M1418.1 484V509.7M1426.3 489V513.3M1434.5 493V514.7M1442.7 485V509M1450.9 475V499M1459.1 458V482M1467.3 437V463M1475.5 405V431M1483.7 409V435M1491.9 412V438M1500.1 381V407M1508.3 385V411M1516.5 373V397M1524.7 379V405M1532.9 383V409M1541.1 384V410M1549.3 357.7V381M1557.5 365V389M1565.7 387V413M1573.9 345.3V381M1582.1 389V415M1590.3 377V421.5M1598.5 364V390M1606.7 347.8V381M1614.9 366V392M1623.1 385V412.4M1631.3 356.2V382M1639.5 314.9V355.4M1647.7 364.5V391.1M1664.1 366.8V391.1M1680.5 370.6V394.9M1696.9 375.2V399.9M1713.3 367V392.2M1729.7 348.9V371.8M1746.1 356V382.8M1762.5 390V417.3M1795.3 357.3V385.5M1828.1 364.4V386.2M1860.9 374.6V400.2M1893.7 378.7V397.7M1926.5 385V410.2M1959.3 367.1V392M1992.1 349.7V372.9M2024.9 366.3V395.8" stroke="#ff5500" stroke-width="3.2" fill="none"/>
<path d="M1180.2 491.9h16.5M1180.2 516.1h16.5M1213 496.2h16.5M1213 518.2h16.5M1245.8 475.6h16.5M1245.8 496.9h16.5M1278.7 500.5h16.5M1278.7 520.4h16.5M1311.5 501.2h16.5M1311.5 526.1h16.5M1344.2 489.8h16.5M1344.2 510h16.5M1360.7 472h16.5M1360.7 497.6h16.5M1377 501.2h16.5M1377 523.2h16.5M1393.5 485.5h16.5M1393.5 509h16.5M1401.7 476.3h16.5M1401.7 498.3h16.5M1409.8 484h16.5M1409.8 509.7h16.5M1418 489h16.5M1418 513.3h16.5M1426.2 493h16.5M1426.2 514.7h16.5M1434.5 485h16.5M1434.5 509h16.5M1442.7 475h16.5M1442.7 499h16.5M1450.8 458h16.5M1450.8 482h16.5M1459 437h16.5M1459 463h16.5M1467.2 405h16.5M1467.2 431h16.5M1475.5 409h16.5M1475.5 435h16.5M1483.7 412h16.5M1483.7 438h16.5M1491.8 381h16.5M1491.8 407h16.5M1500 385h16.5M1500 411h16.5M1508.2 373h16.5M1508.2 397h16.5M1516.5 379h16.5M1516.5 405h16.5M1524.7 383h16.5M1524.7 409h16.5M1532.8 384h16.5M1532.8 410h16.5M1541 357.7h16.5M1541 381h16.5M1549.2 365h16.5M1549.2 389h16.5M1557.5 387h16.5M1557.5 413h16.5M1565.7 345.3h16.5M1565.7 381h16.5M1573.8 389h16.5M1573.8 415h16.5M1582 377h16.5M1582 421.5h16.5M1590.2 364h16.5M1590.2 390h16.5M1598.5 347.8h16.5M1598.5 381h16.5M1606.7 366h16.5M1606.7 392h16.5M1614.8 385h16.5M1614.8 412.4h16.5M1623 356.2h16.5M1623 382h16.5M1631.2 314.9h16.5M1631.2 355.4h16.5M1639.5 364.5h16.5M1639.5 391.1h16.5M1655.8 366.8h16.5M1655.8 391.1h16.5M1672.2 370.6h16.5M1672.2 394.9h16.5M1688.7 375.2h16.5M1688.7 399.9h16.5M1705 367h16.5M1705 392.2h16.5M1721.5 348.9h16.5M1721.5 371.8h16.5M1737.8 356h16.5M1737.8 382.8h16.5M1754.2 390h16.5M1754.2 417.3h16.5M1787 357.3h16.5M1787 385.5h16.5M1819.8 364.4h16.5M1819.8 386.2h16.5M1852.7 374.6h16.5M1852.7 400.2h16.5M1885.5 378.7h16.5M1885.5 397.7h16.5M1918.2 385h16.5M1918.2 410.2h16.5M1951.1 367.1h16.5M1951.1 392h16.5M1983.8 349.7h16.5M1983.8 372.9h16.5M2016.7 366.3h16.5M2016.7 395.8h16.5" stroke="#ff5500" stroke-width="3.6" fill="none"/>
<circle cx="1188.5" cy="504" r="7.2" fill="#ff5500"/>
<circle cx="1221.3" cy="506.9" r="7.2" fill="#ff5500"/>
<circle cx="1254.1" cy="486.2" r="7.2" fill="#ff5500"/>
<circle cx="1286.9" cy="510.4" r="7.2" fill="#ff5500"/>
<circle cx="1319.7" cy="514" r="7.2" fill="#ff5500"/>
<circle cx="1352.5" cy="499.7" r="7.2" fill="#ff5500"/>
<circle cx="1368.9" cy="484.8" r="7.2" fill="#ff5500"/>
<circle cx="1385.3" cy="512.5" r="7.2" fill="#ff5500"/>
<circle cx="1401.7" cy="496.9" r="7.2" fill="#ff5500"/>
<circle cx="1409.9" cy="486.9" r="7.2" fill="#ff5500"/>
<circle cx="1418.1" cy="496.9" r="7.2" fill="#ff5500"/>
<circle cx="1426.3" cy="501.2" r="7.2" fill="#ff5500"/>
<circle cx="1434.5" cy="504" r="7.2" fill="#ff5500"/>
<circle cx="1442.7" cy="497" r="7.2" fill="#ff5500"/>
<circle cx="1450.9" cy="487" r="7.2" fill="#ff5500"/>
<circle cx="1459.1" cy="470" r="7.2" fill="#ff5500"/>
<circle cx="1467.3" cy="450" r="7.2" fill="#ff5500"/>
<circle cx="1475.5" cy="418" r="7.2" fill="#ff5500"/>
<circle cx="1483.7" cy="422" r="7.2" fill="#ff5500"/>
<circle cx="1491.9" cy="425" r="7.2" fill="#ff5500"/>
<circle cx="1500.1" cy="394" r="7.2" fill="#ff5500"/>
<circle cx="1508.3" cy="398" r="7.2" fill="#ff5500"/>
<circle cx="1516.5" cy="385" r="7.2" fill="#ff5500"/>
<circle cx="1524.7" cy="392" r="7.2" fill="#ff5500"/>
<circle cx="1532.9" cy="396" r="7.2" fill="#ff5500"/>
<circle cx="1541.1" cy="397" r="7.2" fill="#ff5500"/>
<circle cx="1549.3" cy="369" r="7.2" fill="#ff5500"/>
<circle cx="1557.5" cy="377" r="7.2" fill="#ff5500"/>
<circle cx="1565.7" cy="400" r="7.2" fill="#ff5500"/>
<circle cx="1573.9" cy="363" r="7.2" fill="#ff5500"/>
<circle cx="1582.1" cy="402" r="7.2" fill="#ff5500"/>
<circle cx="1590.3" cy="399" r="7.2" fill="#ff5500"/>
<circle cx="1598.5" cy="377" r="7.2" fill="#ff5500"/>
<circle cx="1606.7" cy="364.5" r="7.2" fill="#ff5500"/>
<circle cx="1614.9" cy="379" r="7.2" fill="#ff5500"/>
<circle cx="1623.1" cy="398.7" r="7.2" fill="#ff5500"/>
<circle cx="1631.3" cy="369.1" r="7.2" fill="#ff5500"/>
<circle cx="1639.5" cy="334.9" r="7.2" fill="#ff5500"/>
<circle cx="1647.7" cy="379" r="7.2" fill="#ff5500"/>
<circle cx="1664.1" cy="379" r="7.2" fill="#ff5500"/>
<circle cx="1680.5" cy="382.8" r="7.2" fill="#ff5500"/>
<circle cx="1696.9" cy="387.3" r="7.2" fill="#ff5500"/>
<circle cx="1713.3" cy="379.3" r="7.2" fill="#ff5500"/>
<circle cx="1729.7" cy="360.3" r="7.2" fill="#ff5500"/>
<circle cx="1746.1" cy="369.2" r="7.2" fill="#ff5500"/>
<circle cx="1762.5" cy="403.4" r="7.2" fill="#ff5500"/>
<circle cx="1795.3" cy="371.2" r="7.2" fill="#ff5500"/>
<circle cx="1828.1" cy="375" r="7.2" fill="#ff5500"/>
<circle cx="1860.9" cy="387.8" r="7.2" fill="#ff5500"/>
<circle cx="1893.7" cy="387.8" r="7.2" fill="#ff5500"/>
<circle cx="1926.5" cy="397.7" r="7.2" fill="#ff5500"/>
<circle cx="1959.3" cy="379.5" r="7.2" fill="#ff5500"/>
<circle cx="1992.1" cy="361.3" r="7.2" fill="#ff5500"/>
<circle cx="2024.9" cy="381.2" r="7.2" fill="#ff5500"/>
</g>
<path d="M1188.5 500.4 L1291 500.4 L1393.5 500.4 L1393.5 500.4 L1395.1 500.4 L1396.8 500.4 L1398.4 500.4 L1400.1 500.4 L1401.7 500.4 L1403.3 500.4 L1405 500.4 L1406.6 500.4 L1408.3 500.4 L1409.9 500.4 L1411.5 500.4 L1413.2 500.4 L1414.8 500.4 L1416.5 500.4 L1418.1 500.3 L1419.7 500.3 L1421.4 500.2 L1423 500.1 L1424.7 500 L1426.3 499.8 L1427.9 499.6 L1429.6 499.3 L1431.2 498.8 L1432.9 498.3 L1434.5 497.5 L1436.1 496.6 L1437.8 495.5 L1439.4 494.1 L1441.1 492.5 L1442.7 490.6 L1444.3 488.5 L1446 486 L1447.6 483.4 L1449.3 480.5 L1450.9 477.3 L1452.5 474 L1454.2 470.6 L1455.8 467 L1457.5 463.4 L1459.1 459.8 L1460.7 456.1 L1462.4 452.6 L1464 449.1 L1465.7 445.6 L1467.3 442.3 L1468.9 439.2 L1470.6 436.1 L1472.2 433.2 L1473.9 430.4 L1475.5 427.8 L1477.1 425.3 L1478.8 422.9 L1480.4 420.7 L1482.1 418.6 L1483.7 416.6 L1485.3 414.7 L1487 412.9 L1488.6 411.2 L1490.3 409.6 L1491.9 408 L1493.5 406.6 L1495.2 405.2 L1496.8 404 L1498.5 402.8 L1500.1 401.6 L1501.7 400.5 L1503.4 399.5 L1505 398.5 L1506.7 397.6 L1508.3 396.7 L1509.9 395.9 L1511.6 395.2 L1513.2 394.4 L1514.9 393.7 L1516.5 393.1 L1518.1 392.5 L1519.8 391.9 L1521.4 391.3 L1523.1 390.8 L1524.7 390.3 L1526.3 389.9 L1528 389.4 L1529.6 389 L1531.3 388.6 L1532.9 388.2 L1534.5 387.9 L1536.2 387.5 L1537.8 387.2 L1539.5 386.9 L1541.1 386.7 L1542.7 386.4 L1544.4 386.1 L1546 385.9 L1547.7 385.7 L1549.3 385.5 L1550.9 385.3 L1552.6 385.1 L1554.2 384.9 L1555.9 384.7 L1557.5 384.6 L1559.1 384.4 L1560.8 384.3 L1562.4 384.1 L1564.1 384 L1565.7 383.9 L1567.3 383.8 L1569 383.7 L1570.6 383.6 L1572.3 383.5 L1573.9 383.4 L1575.5 383.3 L1577.2 383.2 L1578.8 383.1 L1580.5 383.1 L1582.1 383 L1583.7 382.9 L1585.4 382.9 L1587 382.8 L1588.7 382.7 L1590.3 382.7 L1591.9 382.6 L1593.6 382.6 L1595.2 382.6 L1596.9 382.5 L1598.5 382.5 L1600.1 382.4 L1601.8 382.4 L1603.4 382.4 L1605.1 382.3 L1606.7 382.3 L1608.3 382.3 L1610 382.3 L1611.6 382.2 L1613.3 382.2 L1614.9 382.2 L1616.5 382.2 L1618.2 382.1 L1619.8 382.1 L1621.5 382.1 L1623.1 382.1 L1624.7 382.1 L1626.4 382.1 L1628 382 L1629.7 382 L1631.3 382 L1632.9 382 L1634.6 382 L1636.2 382 L1637.9 382 L1639.5 382 L1641.1 382 L1642.8 381.9 L1644.4 381.9 L1646.1 381.9 L1647.7 381.9 L1647.7 381.9 L1689.6 381.8 L1731.5 381.8 L1773.4 381.8 L1815.3 381.8 L1857.3 381.8 L1899.2 381.8 L1941.1 381.8 L1983 381.8 L2024.9 381.8" stroke="#000" stroke-width="3.5" fill="none" stroke-linejoin="round"/>
<path d="M1188.5 775.2 L1291 775.2 L1393.5 775.2 L1393.5 775.2 L1395.1 775.2 L1396.8 775.2 L1398.4 775.2 L1400.1 775.2 L1401.7 775.2 L1403.3 775.2 L1405 775.2 L1406.6 775.2 L1408.3 775.1 L1409.9 775.1 L1411.5 775 L1413.2 774.9 L1414.8 774.7 L1416.5 774.5 L1418.1 774.1 L1419.7 773.5 L1421.4 772.7 L1423 771.5 L1424.7 770 L1426.3 768 L1427.9 765.4 L1429.6 762.1 L1431.2 758.1 L1432.9 753.3 L1434.5 747.6 L1436.1 741 L1437.8 733.5 L1439.4 725.2 L1441.1 716.1 L1442.7 706.4 L1444.3 696 L1446 685.3 L1447.6 674.2 L1449.3 663 L1450.9 651.8 L1452.5 640.7 L1454.2 629.7 L1455.8 619 L1457.5 608.7 L1459.1 598.6 L1460.7 589 L1462.4 579.8 L1464 571 L1465.7 562.6 L1467.3 554.6 L1468.9 547 L1470.6 539.8 L1472.2 532.9 L1473.9 526.3 L1475.5 520.1 L1477.1 514.2 L1478.8 508.6 L1480.4 503.3 L1482.1 498.2 L1483.7 493.4 L1485.3 488.9 L1487 484.5 L1488.6 480.4 L1490.3 476.5 L1491.9 472.8 L1493.5 469.3 L1495.2 465.9 L1496.8 462.7 L1498.5 459.7 L1500.1 456.8 L1501.7 454.1 L1503.4 451.5 L1505 449 L1506.7 446.7 L1508.3 444.5 L1509.9 442.4 L1511.6 440.4 L1513.2 438.5 L1514.9 436.7 L1516.5 434.9 L1518.1 433.3 L1519.8 431.8 L1521.4 430.3 L1523.1 428.9 L1524.7 427.6 L1526.3 426.3 L1528 425.1 L1529.6 424 L1531.3 422.9 L1532.9 421.9 L1534.5 420.9 L1536.2 420 L1537.8 419.1 L1539.5 418.2 L1541.1 417.4 L1542.7 416.7 L1544.4 416 L1546 415.3 L1547.7 414.6 L1549.3 414 L1550.9 413.5 L1552.6 412.9 L1554.2 412.4 L1555.9 411.9 L1557.5 411.4 L1559.1 410.9 L1560.8 410.5 L1562.4 410.1 L1564.1 409.7 L1565.7 409.4 L1567.3 409 L1569 408.7 L1570.6 408.4 L1572.3 408.1 L1573.9 407.8 L1575.5 407.5 L1577.2 407.3 L1578.8 407 L1580.5 406.8 L1582.1 406.6 L1583.7 406.4 L1585.4 406.2 L1587 406 L1588.7 405.8 L1590.3 405.6 L1591.9 405.5 L1593.6 405.3 L1595.2 405.2 L1596.9 405 L1598.5 404.9 L1600.1 404.8 L1601.8 404.6 L1603.4 404.5 L1605.1 404.4 L1606.7 404.3 L1608.3 404.2 L1610 404.1 L1611.6 404 L1613.3 404 L1614.9 403.9 L1616.5 403.8 L1618.2 403.7 L1619.8 403.7 L1621.5 403.6 L1623.1 403.5 L1624.7 403.5 L1626.4 403.4 L1628 403.4 L1629.7 403.3 L1631.3 403.3 L1632.9 403.2 L1634.6 403.2 L1636.2 403.2 L1637.9 403.1 L1639.5 403.1 L1641.1 403.1 L1642.8 403 L1644.4 403 L1646.1 403 L1647.7 402.9 L1647.7 402.9 L1689.6 402.5 L1731.5 402.4 L1773.4 402.4 L1815.3 402.4 L1857.3 402.4 L1899.2 402.4 L1941.1 402.4 L1983 402.4 L2024.9 402.4" stroke="#000" stroke-width="3.5" fill="none" stroke-linejoin="round"/>
<path d="M2039.6 313V802.2M2039.6 357.5h-29M2039.6 441.8h-29M2039.6 526h-29M2039.6 610.3h-29M2039.6 694.5h-29M2039.6 778.7h-29" stroke="#006400" stroke-width="4" fill="none"/>
<text transform="translate(2110.4 370.5) scale(1.05 1)" class="g" text-anchor="end">1.6</text>
<text transform="translate(2110.4 454.8) scale(1.05 1)" class="g" text-anchor="end">1.2</text>
<text transform="translate(2110.4 539) scale(1.05 1)" class="g" text-anchor="end">0.8</text>
<text transform="translate(2110.4 623.3) scale(1.05 1)" class="g" text-anchor="end">0.4</text>
<text transform="translate(2110.4 707.5) scale(1.05 1)" class="g" text-anchor="end">0.0</text>
<text transform="translate(2110.4 791.7) scale(1.05 1)" class="g" text-anchor="end">-0.4</text>
<text class="g" transform="translate(2129 518.5) rotate(90) scale(1.05 1)">L / S</text>
<rect x="1778" y="624.5" width="206.5" height="171" fill="#fff"/>
<rect x="1784.3" y="630.6" width="193.7" height="158.9" fill="#fff" stroke="#000" stroke-width="4"/>
<circle cx="1837.5" cy="665.1" r="13.7" fill="#ff5500"/>
<circle cx="1837.5" cy="711.1" r="12.6" fill="#fff" stroke="#6a00ff" stroke-width="2"/>
<path d="M1837.5 738.9L1856.2 757.5L1837.5 776.1L1818.8 757.5Z" fill="#009900"/>
<text transform="translate(1890 677.7) scale(1.05 1)">Fe L</text><text transform="translate(1890 723.5) scale(1.05 1)">Fe S</text><text transform="translate(1890 770) scale(1.05 1)">L / S</text>
<text transform="translate(1165.8 375.1) scale(1.05 1)" text-anchor="end">0.0</text>
<g clip-path="url(#cl)">
<text transform="translate(1165.8 474.9) scale(1.05 1)" text-anchor="end">-0.1</text>
<text transform="translate(1165.8 575.1) scale(1.05 1)" text-anchor="end">-0.2</text>
<text transform="translate(1165.8 675.3) scale(1.05 1)" text-anchor="end">-0.3</text>
<text transform="translate(1165.8 775.5) scale(1.05 1)" text-anchor="end">-0.4</text>
</g>
<text transform="translate(1270.5 855.2) scale(1.05 1)" text-anchor="middle">-1.0</text>
<text transform="translate(1434.5 855.2) scale(1.05 1)" text-anchor="middle">0.0</text>
<text transform="translate(1598.5 855.2) scale(1.05 1)" text-anchor="middle">1.0</text>
<text transform="translate(1762.5 855.2) scale(1.05 1)" text-anchor="middle">2.0</text>
<text transform="translate(1926.5 855.2) scale(1.05 1)" text-anchor="middle">3.0</text>
<text transform="translate(1606.6 896.4) scale(1.05 1)" text-anchor="middle">Delay (ps)</text>
<text x="1228.6" y="444.5" style="font-size:43px" textLength="52" lengthAdjust="spacingAndGlyphs">(a)</text>
</g>
</svg></body></html>
